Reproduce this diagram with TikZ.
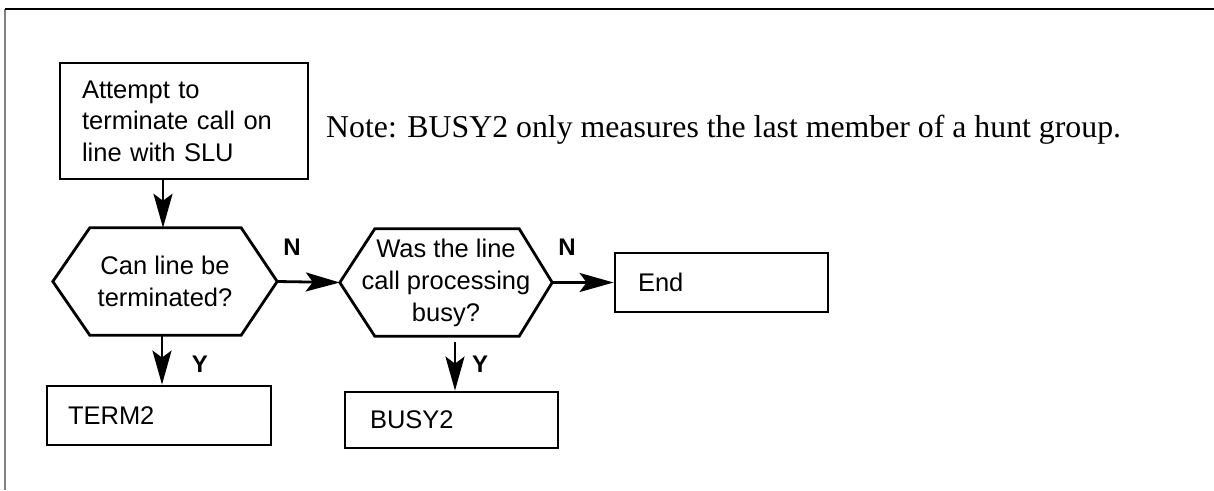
\documentclass[tikz,border=0pt]{standalone}
\usepackage{fontspec}
\setmainfont{Liberation Serif}
\setsansfont{Liberation Sans}
\usetikzlibrary{arrows.meta}
\tikzset{
  lw/.style={line width=2.8pt},
  stepbox/.style={draw, lw, rectangle, inner sep=0pt, align=left, font=\sffamily\fontsize{25.5}{31.5}\selectfont},
  hexbox/.style={inner sep=0pt, align=center, font=\sffamily\fontsize{25.5}{32}\selectfont},
  arr/.style={lw, -{Stealth[length=34pt,width=19pt,inset=7pt]}},
  lbl/.style={font=\sffamily\bfseries\fontsize{24}{26}\selectfont, inner sep=0pt},
}
\begin{document}
\begin{tikzpicture}[x=1pt,y=-1pt]
\useasboundingbox (0,0) rectangle (1214,490);
\coordinate (fa) at (5,490);
\coordinate (fb) at (5,9);
\coordinate (fc) at (1214,9);
\draw[gray, line width=1.6pt] (fa) -- (fb);
\draw[black, line width=1.3pt] (fb) -- (fc);

\node[stepbox, minimum height=116pt, text width=204pt, inner xsep=22pt] (start) at (184,121)
  {Attempt to\\terminate call on\\line with SLU};

\node[anchor=base west, font=\fontsize{31.8}{34}\selectfont, inner sep=0pt] (note) at (326,137)
  {Note: BUSY2 only measures the last member of a hunt group.};

\node[hexbox, minimum width=224pt, minimum height=107pt] (h1) at (165,281.5)
  {Can line be\\terminated?};
\draw[lw, line join=miter] (h1.west) -- ([xshift=37pt]h1.north west) -- ([xshift=-36pt]h1.north east)
  -- (h1.east) -- ([xshift=-36pt]h1.south east) -- ([xshift=37pt]h1.south west) -- cycle;

\node[hexbox, minimum width=212pt, minimum height=107pt] (h2) at (446,282.5)
  {Was the line\\call processing\\busy?};
\draw[lw, line join=miter] (h2.west) -- ([xshift=35pt]h2.north west) -- ([xshift=-33pt]h2.north east)
  -- (h2.east) -- ([xshift=-33pt]h2.south east) -- ([xshift=35pt]h2.south west) -- cycle;

\node[stepbox, minimum height=59pt, text width=167pt, inner xsep=23pt] (end) at (721.5,282.5) {End};
\node[stepbox, minimum height=59pt, text width=182pt, inner xsep=21pt] (term) at (159,415.5) {TERM2};
\node[stepbox, minimum height=56pt, text width=163pt, inner xsep=25pt] (busy) at (451.5,420) {BUSY2};

\draw[arr] ([xshift=-2pt]start.south -| h1.north) -- ([xshift=-2pt]h1.north);
\draw[arr] ([xshift=-3pt]h1.south) -- ([xshift=-3pt]h1.south |- term.north);
\draw[arr] (h1.east) -- (h2.west);
\draw[arr] (h2.east) -- (end.west);
\draw[arr] ([xshift=9pt,yshift=-6pt]h2.south) -- ([xshift=9pt]h2.south |- busy.north);

\node[lbl] (n1) at (292,247) {N};
\node[lbl] (n2) at (567,247) {N};
\node[lbl] (y1) at (200,364) {Y};
\node[lbl] (y2) at (480,364) {Y};
\end{tikzpicture}
\end{document}
